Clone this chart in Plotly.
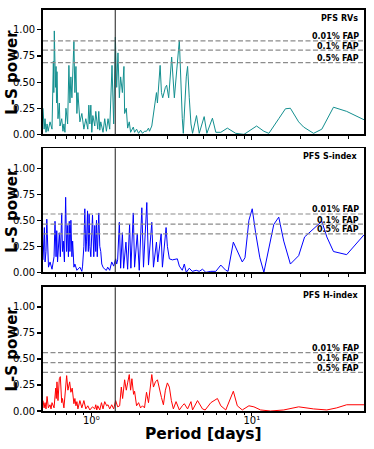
import math
import plotly.graph_objects as go
from plotly.subplots import make_subplots

# Lomb-Scargle periodograms, period [days] vs power
rv_period = [0.500, 0.508, 0.515, 0.522, 0.530, 0.538, 0.553, 0.569, 0.580, 0.584,
             0.588, 0.592, 0.594, 0.598, 0.603, 0.607, 0.611, 0.620, 0.632, 0.638,
             0.654, 0.666, 0.675, 0.685, 0.695, 0.712, 0.725, 0.736, 0.746, 0.757,
             0.779, 0.790, 0.802, 0.813, 0.825, 0.849, 0.873, 0.899, 0.924, 0.951,
             0.965, 0.979, 0.993, 1.007, 1.022, 1.051, 1.066, 1.097, 1.113, 1.129,
             1.145, 1.183, 1.212, 1.242, 1.271, 1.302, 1.346, 1.378, 1.412, 1.439,
             1.466, 1.495, 1.523, 1.561, 1.597, 1.613, 1.652, 1.684, 1.724, 1.757,
             1.826, 1.860, 1.914, 1.970, 2.027, 2.085, 2.145, 2.207, 2.271, 2.305,
             2.381, 2.474, 2.546, 2.582, 2.684, 2.735, 2.785, 2.894, 2.948, 3.034,
             3.167, 3.291, 3.535, 3.689, 3.742, 3.906, 3.979, 4.077, 4.177, 4.273,
             4.524, 4.702, 5.049, 5.248, 5.683, 5.967, 6.409, 7.041, 7.671, 7.938,
             8.935, 9.594, 10.71, 11.89, 12.77, 14.72, 16.20, 17.39, 19.58, 21.03,
             24.26, 27.31, 32.27, 39.00, 50.0]
rv_power = [0.25, 0.05, 0.15, 0.02, 0.10, 0.03, 0.12, 0.05, 0.70, 0.40,
            0.99, 0.55, 0.72, 0.45, 0.65, 0.30, 0.60, 0.15, 0.30, 0.08,
            0.15, 0.03, 0.10, 0.02, 0.25, 0.10, 0.66, 0.30, 0.55, 0.35,
            0.89, 0.40, 0.65, 0.20, 0.40, 0.12, 0.20, 0.05, 0.15, 0.05,
            0.28, 0.10, 0.28, 0.02, 0.18, 0.08, 0.22, 0.05, 0.22, 0.04,
            0.12, 0.02, 0.15, 0.03, 0.15, 0.05, 0.66, 0.10, 0.93, 0.45,
            0.78, 0.35, 0.55, 0.40, 0.65, 0.20, 0.25, 0.06, 0.12, 0.02,
            0.07, 0.02, 0.05, 0.01, 0.04, 0.01, 0.03, 0.03, 0.06, 0.03,
            0.08, 0.24, 0.40, 0.30, 0.66, 0.40, 0.35, 0.45, 0.47, 0.35,
            0.74, 0.35, 0.90, 0.15, 0.01, 0.55, 0.65, 0.35, 0.10, 0.01,
            0.18, 0.01, 0.17, 0.01, 0.155, 0.02, 0.02, 0.06, 0.02, 0.01,
            0.00, 0.03, 0.08, 0.03, 0.01, 0.15, 0.245, 0.25, 0.12, 0.07,
            0.01, 0.05, 0.26, 0.22, 0.14]

s_period = [0.500, 0.510, 0.515, 0.522, 0.528, 0.534, 0.541, 0.553, 0.569, 0.586,
            0.594, 0.603, 0.609, 0.616, 0.632, 0.641, 0.654, 0.661, 0.669, 0.680,
            0.692, 0.702, 0.712, 0.720, 0.729, 0.736, 0.746, 0.757, 0.765, 0.779,
            0.790, 0.813, 0.849, 0.873, 0.882, 0.899, 0.911, 0.924, 0.934, 0.947,
            0.958, 0.969, 0.979, 0.993, 1.007, 1.017, 1.036, 1.051, 1.066, 1.077,
            1.089, 1.113, 1.129, 1.145, 1.162, 1.183, 1.212, 1.242, 1.265, 1.302,
            1.340, 1.378, 1.418, 1.439, 1.459, 1.495, 1.523, 1.561, 1.590, 1.643,
            1.684, 1.732, 1.764, 1.826, 1.860, 1.933, 1.989, 2.064, 2.114, 2.217,
            2.271, 2.381, 2.439, 2.546, 2.594, 2.723, 2.773, 2.923, 2.978, 3.064,
            3.199, 3.436, 3.535, 3.689, 3.796, 3.906, 4.077, 4.255, 4.505, 4.702,
            4.928, 5.173, 5.555, 5.967, 6.409, 6.882, 7.111, 7.671, 8.720, 9.064,
            9.594, 10.06, 10.56, 11.22, 11.89, 13.71, 14.72, 15.81, 17.39, 19.58,
            21.33, 23.67, 27.31, 29.33, 32.27, 39.00, 50.0]
s_power = [0.12, 0.43, 0.10, 0.20, 0.51, 0.15, 0.05, 0.10, 0.03, 0.15,
           0.49, 0.15, 0.40, 0.10, 0.38, 0.15, 0.57, 0.20, 0.30, 0.10,
           0.72, 0.20, 0.45, 0.15, 0.49, 0.20, 0.50, 0.15, 0.30, 0.05,
           0.08, 0.02, 0.05, 0.01, 0.06, 0.25, 0.61, 0.20, 0.30, 0.59,
           0.20, 0.56, 0.25, 0.15, 0.40, 0.55, 0.15, 0.45, 0.20, 0.50,
           0.15, 0.57, 0.25, 0.20, 0.08, 0.05, 0.03, 0.02, 0.05, 0.02,
           0.10, 0.06, 0.13, 0.08, 0.12, 0.48, 0.04, 0.38, 0.04, 0.29,
           0.03, 0.46, 0.04, 0.57, 0.05, 0.37, 0.02, 0.62, 0.05, 0.67,
           0.07, 0.48, 0.05, 0.29, 0.10, 0.37, 0.05, 0.43, 0.25, 0.13,
           0.12, 0.13, 0.06, 0.02, 0.08, 0.00, 0.04, 0.01, 0.02, 0.01,
           0.03, 0.00, 0.01, 0.01, 0.07, 0.02, 0.01, 0.29, 0.10, 0.14,
           0.50, 0.61, 0.38, 0.14, 0.00, 0.46, 0.53, 0.30, 0.08, 0.16,
           0.34, 0.40, 0.49, 0.34, 0.20, 0.17, 0.36]

h_period = [0.500, 0.508, 0.515, 0.522, 0.530, 0.540, 0.553, 0.561, 0.569, 0.586,
            0.600, 0.605, 0.611, 0.620, 0.632, 0.641, 0.654, 0.661, 0.675, 0.685,
            0.702, 0.715, 0.733, 0.746, 0.760, 0.779, 0.790, 0.802, 0.813, 0.825,
            0.849, 0.873, 0.899, 0.924, 0.951, 0.979, 1.017, 1.051, 1.066, 1.082,
            1.097, 1.129, 1.157, 1.183, 1.212, 1.247, 1.271, 1.302, 1.340, 1.378,
            1.418, 1.459, 1.502, 1.538, 1.567, 1.613, 1.652, 1.684, 1.724, 1.757,
            1.790, 1.834, 1.860, 1.914, 1.970, 2.027, 2.085, 2.145, 2.207, 2.271,
            2.327, 2.381, 2.439, 2.510, 2.582, 2.657, 2.735, 2.813, 2.894, 2.978,
            3.064, 3.153, 3.245, 3.373, 3.535, 3.689, 3.796, 3.979, 4.177, 4.273,
            4.589, 4.928, 5.122, 5.555, 6.105, 6.409, 6.882, 7.671, 8.121, 8.720,
            9.594, 10.30, 11.34, 13.08, 15.81, 19.58, 24.26, 29.33, 33.81, 39.00,
            50.0]
h_power = [0.10, 0.03, 0.08, 0.02, 0.14, 0.03, 0.06, 0.02, 0.08, 0.03,
           0.22, 0.12, 0.28, 0.10, 0.31, 0.33, 0.08, 0.12, 0.03, 0.15,
           0.34, 0.20, 0.28, 0.18, 0.22, 0.07, 0.12, 0.05, 0.09, 0.02,
           0.10, 0.03, 0.10, 0.02, 0.05, 0.01, 0.04, 0.02, 0.06, 0.01,
           0.05, 0.01, 0.08, 0.02, 0.09, 0.05, 0.06, 0.02, 0.06, 0.02,
           0.10, 0.04, 0.05, 0.23, 0.12, 0.30, 0.20, 0.27, 0.35, 0.20,
           0.31, 0.16, 0.19, 0.05, 0.08, 0.03, 0.05, 0.03, 0.18, 0.08,
           0.23, 0.35, 0.23, 0.28, 0.30, 0.20, 0.13, 0.06, 0.20, 0.27,
           0.23, 0.10, 0.02, 0.09, 0.01, 0.05, 0.07, 0.02, 0.09, 0.01,
           0.10, 0.02, 0.01, 0.08, 0.12, 0.05, 0.01, 0.19, 0.05, 0.01,
           0.05, 0.04, 0.01, 0.00, 0.01, 0.04, 0.02, 0.01, 0.03, 0.06,
           0.06]

fap_labels = ["0.01% FAP", "0.1% FAP", "0.5% FAP"]
rv_fap = [0.895, 0.807, 0.686]
s_fap = [0.560, 0.462, 0.370]
h_fap = [0.560, 0.465, 0.372]

marked_period = 1.41
period_range = [0.5, 50]

panels = [
    ("PFS RVs", rv_period, rv_power, rv_fap, "#138f8f"),
    ("PFS S-index", s_period, s_power, s_fap, "#0000ff"),
    ("PFS H-index", h_period, h_power, h_fap, "#ff0000"),
]
domains = [(0.6898, 1.0), (0.3457, 0.6551), (0.0, 0.3089)]

FONT = "DejaVu Sans"

fig = make_subplots(rows=3, cols=1)

minor_ticks = [0.6, 0.7, 0.8, 0.9, 2, 3, 4, 5, 6, 7, 8, 9, 20, 30, 40]

for i, (name, per, pw, fap, col) in enumerate(panels, start=1):
    sfx = "" if i == 1 else str(i)
    fig.add_trace(go.Scatter(x=per, y=pw, mode="lines",
                             line=dict(color=col, width=1)), row=i, col=1)

    for lvl, lab in zip(fap, fap_labels):
        fig.add_shape(type="line", xref=f"x{sfx} domain", yref=f"y{sfx}",
                      x0=0, x1=1, y0=lvl, y1=lvl,
                      line=dict(color="#8c8c8c", width=1.2, dash="5px,2.5px"))
        fig.add_annotation(text=f"<b>{lab}</b>", xref=f"x{sfx} domain", yref=f"y{sfx}",
                           x=0.988, y=lvl, xanchor="right", yanchor="middle", yshift=4,
                           borderpad=0,
                           showarrow=False, font=dict(size=8, color="black", family=FONT))

    fig.add_shape(type="line", xref=f"x{sfx}", yref=f"y{sfx} domain",
                  x0=marked_period, x1=marked_period, y0=0, y1=1,
                  line=dict(color="#303030", width=1.1))

    fig.add_annotation(text=f"<b>{name}</b>", xref=f"x{sfx} domain", yref=f"y{sfx} domain",
                       x=0.988, y=0.935, xanchor="right", yanchor="middle",
                       showarrow=False, font=dict(size=8, color="black", family=FONT))

    d0, d1 = domains[i - 1]
    fig.add_annotation(text="<b>L-S power</b>", xref="paper", yref="paper",
                       x=-0.095, y=(d0 + d1) / 2, textangle=-90,
                       xanchor="center", yanchor="middle", showarrow=False,
                       font=dict(size=15, color="black", family=FONT))

    fig.update_xaxes(type="log", range=[math.log10(period_range[0]), math.log10(period_range[1])],
                     tickvals=[1, 10], ticktext=["10\u2070", "10\u00b9"],
                     showticklabels=(i == 3), ticks="outside", ticklen=3.5, tickwidth=1.2,
                     tickcolor="black", showgrid=False, zeroline=False,
                     ticklabelstandoff=-4,
                     showline=True, linecolor="black", linewidth=1.8, mirror=True,
                     minor=dict(tickvals=minor_ticks, ticks="outside", ticklen=2.5,
                                tickwidth=1, tickcolor="black", showgrid=False),
                     tickfont=dict(size=10, family=FONT, color="black"),
                     row=i, col=1)
    fig.update_yaxes(range=[0, 1.19], tickvals=[0, 0.25, 0.5, 0.75, 1.0], tickformat=".2f",
                     ticks="outside", ticklen=4, tickwidth=1.2, tickcolor="black",
                     showgrid=False, zeroline=False,
                     showline=True, linecolor="black", linewidth=1.8, mirror=True,
                     tickfont=dict(size=10, family=FONT, color="black"),
                     domain=list(domains[i - 1]), row=i, col=1)

fig.add_annotation(text="<b>Period [days]</b>", xref="paper", yref="paper",
                   x=0.5, y=-0.058, xanchor="center", yanchor="middle", showarrow=False,
                   borderpad=0,
                   font=dict(size=15.5, color="black", family=FONT))

fig.update_layout(
    width=374, height=449,
    margin=dict(l=43, r=9, t=8, b=38),
    plot_bgcolor="white", paper_bgcolor="white",
    showlegend=False,
    font=dict(family=FONT, color="black"),
)

# the page body has a default 8px margin; drop it so the figure sits at the corner
fig.write_html("out.html", config={"staticPlot": True},
               post_script="document.body.style.margin='0';")
